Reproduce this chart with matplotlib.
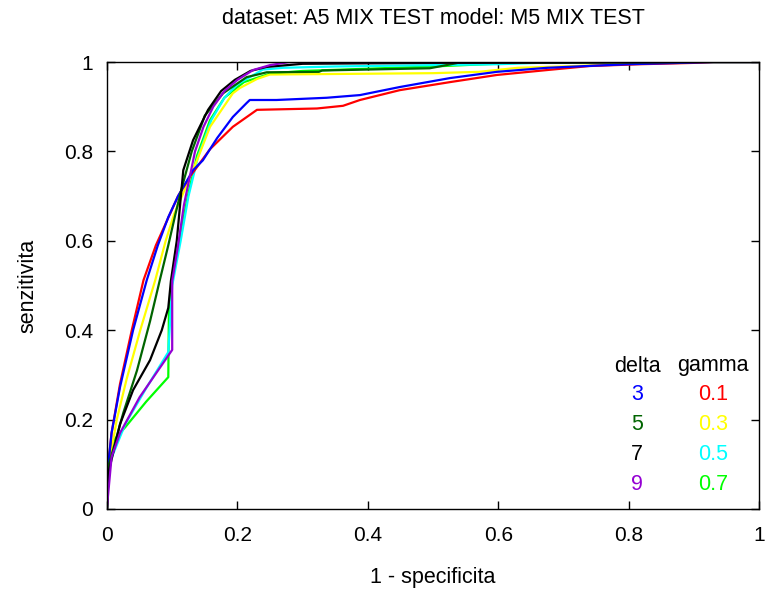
import matplotlib
matplotlib.use("Agg")
import matplotlib.pyplot as plt

plt.rcParams['font.family'] = ['Liberation Sans Narrow', 'Liberation Sans', 'DejaVu Sans']

title = "dataset: A5 MIX TEST model: M5 MIX TEST"
xlabel = "1 - specificita"
ylabel = "senzitivita"
tick_vals = [0, 0.2, 0.4, 0.6, 0.8, 1]
tick_labels = ["0", "0.2", "0.4", "0.6", "0.8", "1"]

delta_labels = ["3", "5", "7", "9"]
gamma_labels = ["0.1", "0.3", "0.5", "0.7"]
delta_colors = ["#0000ff", "#006400", "#000000", "#9400d3"]
gamma_colors = ["#ff0000", "#ffff00", "#00ffff", "#00ff00"]

# gamma curves
g01_x = [0, 0.002, 0.007, 0.02, 0.038, 0.056, 0.075, 0.092, 0.109, 0.127, 0.158, 0.193, 0.23, 0.322, 0.362, 0.388, 0.449, 0.526, 0.598, 0.675, 0.74, 0.817, 0.9, 0.93, 1]
g01_y = [0, 0.10, 0.17, 0.28, 0.40, 0.512, 0.59, 0.645, 0.70, 0.743, 0.805, 0.855, 0.893, 0.896, 0.902, 0.915, 0.937, 0.955, 0.971, 0.982, 0.991, 0.995, 0.998, 1.0, 1.0]
g03_x = [0, 0.003, 0.015, 0.03, 0.051, 0.074, 0.09, 0.103, 0.115, 0.138, 0.158, 0.193, 0.204, 0.23, 0.25, 0.5, 0.57, 0.63, 0.70, 0.77, 0.85, 0.92, 1]
g03_y = [0, 0.10, 0.20, 0.29, 0.40, 0.512, 0.60, 0.66, 0.70, 0.78, 0.855, 0.93, 0.942, 0.962, 0.972, 0.975, 0.978, 0.987, 0.99, 0.994, 0.998, 1.0, 1.0]
g05_x = [0, 0.003, 0.028, 0.06, 0.094, 0.096, 0.10, 0.113, 0.125, 0.14, 0.16, 0.18, 0.20, 0.239, 0.27, 0.35, 0.6, 0.7, 1]
g05_y = [0, 0.10, 0.19, 0.27, 0.351, 0.40, 0.50, 0.60, 0.70, 0.79, 0.87, 0.92, 0.95, 0.983, 0.987, 0.99, 0.995, 1.0, 1.0]
g07_x = [0, 0, 0.007, 0.028, 0.06, 0.094, 0.095, 0.10, 0.112, 0.124, 0.138, 0.158, 0.18, 0.21, 0.25, 0.30, 0.5, 0.66, 1]
g07_y = [0, 0.094, 0.148, 0.183, 0.24, 0.295, 0.45, 0.52, 0.61, 0.70, 0.79, 0.87, 0.92, 0.955, 0.974, 0.98, 0.99, 1.0, 1.0]

# delta curves
d3_x = [0, 0.002, 0.007, 0.02, 0.04, 0.061, 0.078, 0.094, 0.109, 0.132, 0.147, 0.169, 0.193, 0.214, 0.219, 0.26, 0.337, 0.388, 0.449, 0.526, 0.598, 0.675, 0.736, 0.8, 0.88, 0.93, 1]
d3_y = [0, 0.10, 0.17, 0.273, 0.40, 0.512, 0.59, 0.653, 0.70, 0.758, 0.78, 0.83, 0.877, 0.908, 0.915, 0.915, 0.92, 0.926, 0.944, 0.964, 0.978, 0.987, 0.991, 0.995, 0.998, 1.0, 1.0]
d5_x = [0, 0.003, 0.025, 0.046, 0.066, 0.081, 0.094, 0.105, 0.115, 0.13, 0.15, 0.178, 0.214, 0.245, 0.325, 0.33, 0.495, 0.517, 0.538, 0.7, 0.8, 0.9, 1]
d5_y = [0, 0.10, 0.215, 0.31, 0.42, 0.512, 0.59, 0.66, 0.72, 0.80, 0.88, 0.93, 0.966, 0.977, 0.978, 0.981, 0.986, 0.992, 0.998, 0.998, 0.999, 1.0, 1.0]
d7_x = [0, 0.002, 0.02, 0.04, 0.066, 0.084, 0.094, 0.098, 0.107, 0.117, 0.132, 0.155, 0.175, 0.196, 0.22, 0.245, 0.30, 0.5, 0.9, 1]
d7_y = [0, 0.08, 0.19, 0.266, 0.333, 0.40, 0.45, 0.51, 0.60, 0.758, 0.825, 0.893, 0.935, 0.96, 0.98, 0.989, 0.996, 0.998, 1.0, 1.0]
d9_x = [0, 0, 0.007, 0.02, 0.05, 0.10, 0.10, 0.108, 0.118, 0.135, 0.148, 0.163, 0.18, 0.20, 0.224, 0.25, 0.28, 1]
d9_y = [0, 0.005, 0.116, 0.17, 0.25, 0.356, 0.51, 0.58, 0.68, 0.80, 0.855, 0.90, 0.935, 0.96, 0.982, 0.993, 1.0, 1.0]

gamma_curves = [(g01_x, g01_y), (g03_x, g03_y), (g05_x, g05_y), (g07_x, g07_y)]
delta_curves = [(d3_x, d3_y), (d5_x, d5_y), (d7_x, d7_y), (d9_x, d9_y)]

fig = plt.figure(figsize=(7.66, 5.90), dpi=100)
ax = fig.add_axes([107/766, 1 - 509/590, (759-107)/766, (509-62)/590])

order = [(gamma_curves[3], gamma_colors[3]), (gamma_curves[2], gamma_colors[2]),
         (gamma_curves[1], gamma_colors[1]), (gamma_curves[0], gamma_colors[0]),
         (delta_curves[0], delta_colors[0]), (delta_curves[1], delta_colors[1]),
         (delta_curves[2], delta_colors[2]), (delta_curves[3], delta_colors[3])]
for (cx, cy), col in order:
    ax.plot(cx, cy, color=col, lw=1.6, solid_joinstyle='round')

ax.set_xlim(0, 1)
ax.set_ylim(0, 1)
ax.set_xticks(tick_vals)
ax.set_xticklabels(tick_labels)
ax.set_yticks(tick_vals)
ax.set_yticklabels(tick_labels)
ax.tick_params(direction='in', length=6, width=1, top=True, right=True,
               labelsize=15, pad=12)
ax.tick_params(axis='y', pad=10)
for s in ax.spines.values():
    s.set_linewidth(1.0)

fig.text((107+759)/2/766, 1 - 18/590, title, ha='center', va='center', fontsize=15.5)
fig.text((107+759)/2/766, 1 - 577/590, xlabel, ha='center', va='center', fontsize=15.5)
fig.text(28/766, 1 - 286/590, ylabel, ha='center', va='center', rotation=90, fontsize=15.5)

# legend block
rows_y = [395, 424, 455, 484]
fig.text(637/766, 1 - 366/590, "delta", ha='center', va='center', fontsize=15.5)
fig.text(713/766, 1 - 366/590, "gamma", ha='center', va='center', fontsize=15.5)
for i in range(4):
    fig.text(637/766, 1 - rows_y[i]/590, delta_labels[i], ha='center', va='center',
             fontsize=15.5, color=delta_colors[i])
    fig.text(713/766, 1 - rows_y[i]/590, gamma_labels[i], ha='center', va='center',
             fontsize=15.5, color=gamma_colors[i])

fig.savefig("out.png", dpi=100)
